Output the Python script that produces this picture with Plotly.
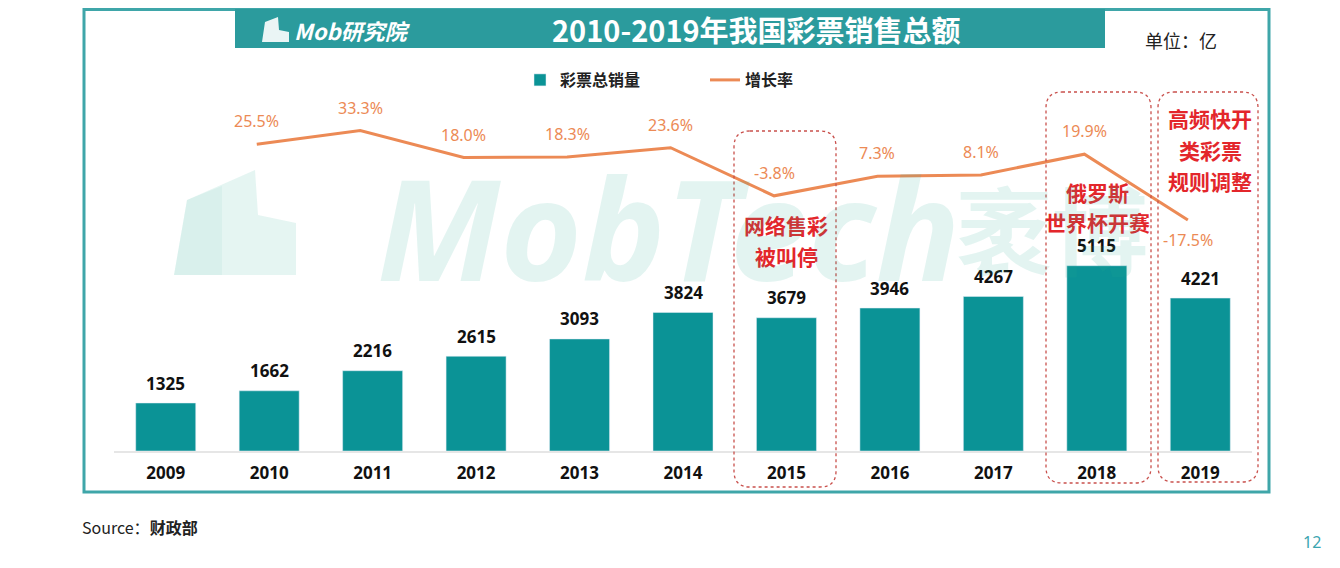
import plotly.graph_objects as go

# ---------------- data ----------------
years = ["2009", "2010", "2011", "2012", "2013", "2014", "2015", "2016", "2017", "2018", "2019"]
sales = [1325, 1662, 2216, 2615, 3093, 3824, 3679, 3946, 4267, 5115, 4221]
growth_years = ["2010", "2011", "2012", "2013", "2014", "2015", "2016", "2017", "2018", "2019"]
growth = [25.5, 33.3, 18.0, 18.3, 23.6, -3.8, 7.3, 8.1, 19.9, -17.5]

title_text = "2010-2019年我国彩票销售总额"
unit_text = "单位：亿"
bar_name = "彩票总销量"
line_name = "增长率"
events = [
    ("2015", ["网络售彩", "被叫停"]),
    ("2018", ["俄罗斯", "世界杯开赛"]),
    ("2019", ["高频快开", "类彩票", "规则调整"]),
]

# ---------------- styles ----------------
W, H = 1340, 568          # window size
OFF = 8                   # page body margin
L, R, T, B = 114, 1252, 100, 451   # plot area in window pixels
TEAL = "#0B9396"
FRAME = "#3FA6A9"
BANNER = "#2B9B9D"
ORANGE = "#EC8A55"
RED = "#E3262B"
CJK = "Noto Sans CJK SC"
SANS = "Noto Sans, Noto Sans CJK SC"


def px(x):
    return (x - L) / (R - L)


def py(y):
    return (B - y) / (B - T)


def rounded_rect(x0, y0, x1, y1, r):
    rx = r / (R - L)
    ry = r / (B - T)
    a, b, c, d = px(x0), py(y1), px(x1), py(y0)  # left, bottom, right, top
    return (f"M {a+rx},{d} L {c-rx},{d} Q {c},{d} {c},{d-ry} "
            f"L {c},{b+ry} Q {c},{b} {c-rx},{b} L {a+rx},{b} "
            f"Q {a},{b} {a},{b+ry} L {a},{d-ry} Q {a},{d} {a+rx},{d} Z")


fig = go.Figure()

fig.add_trace(go.Bar(
    x=years, y=sales, name=bar_name, marker_color=TEAL,
    xaxis="x", yaxis="y", hoverinfo="x+y",
))
fig.add_trace(go.Scatter(
    x=growth_years, y=growth, name=line_name, mode="lines",
    line=dict(color=ORANGE, width=3), xaxis="x2", yaxis="y2",
))

annotations = []
# bar value labels (category index positions)
for i, v in enumerate(sales):
    annotations.append(dict(x=i, y=v, xref="x", yref="y", text=str(v), showarrow=False,
                            yanchor="middle", yshift=20,
                            font=dict(family=SANS, size=17, color="#111111", weight="bold")))
# growth labels
for i, g in enumerate(growth):
    idx = years.index(growth_years[i])
    last = i == len(growth) - 1
    annotations.append(dict(x=idx, y=g, xref="x2", yref="y2", text=f"{g:.1f}%", showarrow=False,
                            yanchor="middle", yshift=-20 if last else 23,
                            font=dict(family=SANS, size=16, color=ORANGE)))

# event texts (red)
event_pos = {"2015": (786, [225, 256]), "2018": (1097, [192, 222]), "2019": (1210, [118, 150, 181])}
for yr, lines in events:
    cx, ys = event_pos[yr]
    for line_txt, yy in zip(lines, ys):
        annotations.append(dict(x=px(cx), y=py(yy), xref="paper", yref="paper", text=line_txt,
                                showarrow=False, xanchor="center", yanchor="middle",
                                font=dict(family=CJK, size=21, color=RED, weight="bold")))

# watermark
annotations.append(dict(x=px(668), y=py(226), xref="paper", yref="paper", text="<i>MobTech</i>",
                        showarrow=False, xanchor="center", yanchor="middle",
                        font=dict(family="Noto Sans", size=140, color="rgba(40,170,150,0.13)", weight="bold")))
annotations.append(dict(x=px(1052), y=py(226), xref="paper", yref="paper", text="袤博",
                        showarrow=False, xanchor="center", yanchor="middle",
                        font=dict(family=CJK, size=96, color="rgba(40,170,150,0.13)", weight="bold")))

# header
annotations.append(dict(x=px(756), y=py(29), xref="paper", yref="paper", text=title_text,
                        showarrow=False, xanchor="center", yanchor="middle",
                        font=dict(family=CJK, size=29, color="white", weight="bold")))
annotations.append(dict(x=px(292), y=py(30), xref="paper", yref="paper", text="<i>Mob研究院</i>",
                        showarrow=False, xanchor="left", yanchor="middle",
                        font=dict(family=CJK, size=22, color="white", weight="bold")))
annotations.append(dict(x=px(1181), y=py(40), xref="paper", yref="paper", text=unit_text,
                        showarrow=False, xanchor="center", yanchor="middle",
                        font=dict(family=CJK, size=18, color="#222222")))
annotations.append(dict(x=px(80), y=py(527), xref="paper", yref="paper",
                        text="Source：<b>财政部</b>", showarrow=False, xanchor="left", yanchor="middle",
                        font=dict(family=CJK, size=16, color="#222222")))
annotations.append(dict(x=px(1312), y=py(542), xref="paper", yref="paper", text="12",
                        showarrow=False, xanchor="center", yanchor="middle",
                        font=dict(family=SANS, size=16, color="#3AA5B0")))

shapes = []
# outer frame
shapes.append(dict(type="rect", xref="paper", yref="paper", x0=px(84), x1=px(1269), y0=py(492), y1=py(9.5),
                   line=dict(color=FRAME, width=3), fillcolor="rgba(0,0,0,0)", layer="below"))
# header banner
shapes.append(dict(type="rect", xref="paper", yref="paper", x0=px(235), x1=px(1105), y0=py(48), y1=py(9),
                   line=dict(width=0), fillcolor=BANNER, layer="below"))
# logo icon in banner
shapes.append(dict(type="path", xref="paper", yref="paper",
                   path=(f"M {px(262)},{py(42)} L {px(265)},{py(22)} L {px(278)},{py(17)} L {px(279)},{py(30)} "
                         f"L {px(289)},{py(32)} L {px(289)},{py(42)} Z"),
                   line=dict(width=0), fillcolor="rgba(255,255,255,0.9)", layer="above"))
# watermark logo
shapes.append(dict(type="path", xref="paper", yref="paper",
                   path=(f"M {px(174)},{py(275)} L {px(187)},{py(200)} L {px(255)},{py(170)} L {px(258)},{py(215)} "
                         f"L {px(296)},{py(223)} L {px(296)},{py(275)} Z"),
                   line=dict(width=0), fillcolor="rgba(40,170,150,0.12)", layer="below"))
shapes.append(dict(type="path", xref="paper", yref="paper",
                   path=(f"M {px(174)},{py(275)} L {px(187)},{py(200)} L {px(222)},{py(186)} L {px(222)},{py(275)} Z"),
                   line=dict(width=0), fillcolor="rgba(40,170,150,0.06)", layer="below"))
# dotted event boxes
for (x0, y0, x1, y1) in [(734, 131, 836, 487), (1046, 92, 1151, 483), (1158, 92, 1258, 482)]:
    shapes.append(dict(type="path", xref="paper", yref="paper", path=rounded_rect(x0, y0, x1, y1, 16),
                       line=dict(color="#C9504C", width=1.3, dash="dot"), layer="above"))

fig.update_layout(
    width=W - OFF, height=H - OFF,
    margin=dict(l=L - OFF, r=W - R, t=T - OFF, b=H - B, pad=0),
    paper_bgcolor="white", plot_bgcolor="rgba(0,0,0,0)",
    bargap=0.42,
    showlegend=True,
    legend=dict(orientation="h", x=px(520), y=py(80), xanchor="left", yanchor="middle",
                font=dict(family=CJK, size=16, color="#222222", weight="bold"),
                entrywidth=140, entrywidthmode="pixels", bgcolor="rgba(0,0,0,0)",
                itemwidth=30, tracegroupgap=0),
    xaxis=dict(type="category", range=[-0.5, 10.5], showgrid=False, zeroline=False,
               showline=True, linecolor="#E6E6E6", linewidth=1.5, ticks="",
               tickfont=dict(family=SANS, size=17, color="#111111", weight="bold"),
               ticklabelstandoff=6),
    xaxis2=dict(type="category", overlaying="x", categoryorder="array", categoryarray=years,
                range=[-0.5 + 0.12, 10.5 + 0.12], visible=False),
    yaxis=dict(range=[0, 9690], visible=False, showgrid=False),
    yaxis2=dict(range=[-148.9, 50.7], overlaying="y", visible=False, showgrid=False),
    annotations=annotations,
    shapes=shapes,
)

fig.write_html("out.html")
